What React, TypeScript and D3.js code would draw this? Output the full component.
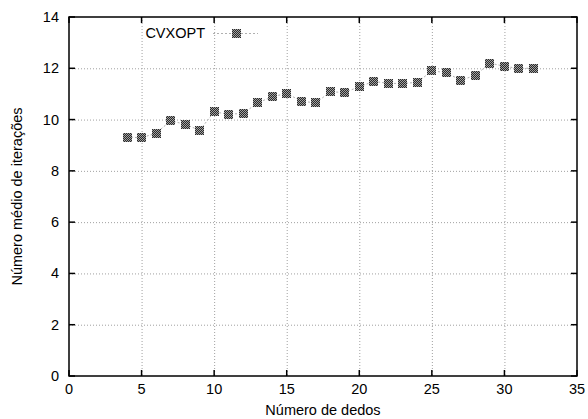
import { useEffect, useRef } from "react";
import * as d3 from "d3";

const dedos = [4, 5, 6, 7, 8, 9, 10, 11, 12, 13, 14, 15, 16, 17, 18, 19, 20, 21, 22, 23, 24, 25, 26, 27, 28, 29, 30, 31, 32];
const iteracoes = [9.32, 9.29, 9.47, 9.95, 9.82, 9.58, 10.3, 10.21, 10.24, 10.65, 10.89, 11.02, 10.72, 10.65, 11.08, 11.06, 11.28, 11.49, 11.41, 11.41, 11.45, 11.9, 11.83, 11.53, 11.73, 12.2, 12.08, 11.99, 12.01];
const xTicks = [0, 5, 10, 15, 20, 25, 30, 35];
const yTicks = [0, 2, 4, 6, 8, 10, 12, 14];
const seriesName = "CVXOPT";

export default function App() {
  const svgRef = useRef(null);

  useEffect(() => {
    const svg = d3.select(svgRef.current);
    svg.selectAll("*").remove();

    const left = 69;
    const right = 577;
    const top = 17;
    const bottom = 376;
    const font = "'Liberation Sans', Arial, sans-serif";
    const fs = 14.5;

    const x = d3.scaleLinear().domain([0, 35]).range([left, right]);
    const y = d3.scaleLinear().domain([0, 14]).range([bottom, top]);

    // checker texture for the markers
    const defs = svg.append("defs");
    const pat = defs
      .append("pattern")
      .attr("id", "chk")
      .attr("width", 2)
      .attr("height", 2)
      .attr("patternUnits", "userSpaceOnUse");
    pat.append("rect").attr("width", 2).attr("height", 2).attr("fill", "#2a2a2a");
    pat.append("rect").attr("width", 1).attr("height", 1).attr("fill", "#a0a0a0");
    pat.append("rect").attr("x", 1).attr("y", 1).attr("width", 1).attr("height", 1).attr("fill", "#a0a0a0");

    // grid
    const grid = svg.append("g").attr("stroke", "#a0a0a0").attr("stroke-width", 1).attr("stroke-dasharray", "1,2");
    xTicks.slice(1, -1).forEach((t) => {
      grid.append("line").attr("x1", x(t) + 0.5).attr("x2", x(t) + 0.5).attr("y1", top).attr("y2", bottom);
    });
    yTicks.slice(1, -1).forEach((t) => {
      grid.append("line").attr("x1", left).attr("x2", right).attr("y1", y(t) + 0.5).attr("y2", y(t) + 0.5);
    });

    // border + ticks
    svg
      .append("rect")
      .attr("x", left)
      .attr("y", top)
      .attr("width", right - left)
      .attr("height", bottom - top)
      .attr("fill", "none")
      .attr("stroke", "#000")
      .attr("stroke-width", 1.5);

    const ticks = svg.append("g").attr("stroke", "#000").attr("stroke-width", 1.5);
    xTicks.forEach((t) => {
      ticks.append("line").attr("x1", x(t)).attr("x2", x(t)).attr("y1", bottom).attr("y2", bottom - 6);
      ticks.append("line").attr("x1", x(t)).attr("x2", x(t)).attr("y1", top).attr("y2", top + 6);
    });
    yTicks.forEach((t) => {
      ticks.append("line").attr("x1", left).attr("x2", left + 6).attr("y1", y(t)).attr("y2", y(t));
      ticks.append("line").attr("x1", right).attr("x2", right - 6).attr("y1", y(t)).attr("y2", y(t));
    });

    // tick labels
    svg
      .append("g")
      .selectAll("text")
      .data(xTicks)
      .join("text")
      .attr("x", (d) => x(d))
      .attr("y", bottom + 18)
      .attr("text-anchor", "middle")
      .attr("font-family", font)
      .attr("font-size", fs)
      .text((d) => d);

    svg
      .append("g")
      .selectAll("text")
      .data(yTicks)
      .join("text")
      .attr("x", left - 10)
      .attr("y", (d) => y(d) + 5)
      .attr("text-anchor", "end")
      .attr("font-family", font)
      .attr("font-size", fs)
      .text((d) => d);

    // axis titles
    svg
      .append("text")
      .attr("x", (left + right) / 2)
      .attr("y", 415)
      .attr("text-anchor", "middle")
      .attr("font-family", font)
      .attr("font-size", fs)
      .text("Número de dedos");

    svg
      .append("text")
      .attr("transform", `translate(22,${(top + bottom) / 2}) rotate(-90)`)
      .attr("text-anchor", "middle")
      .attr("font-family", font)
      .attr("font-size", fs)
      .text("Número médio de iterações");

    // connecting line
    const pts = dedos.map((d, i) => [d, iteracoes[i]] as [number, number]);
    const line = d3
      .line<[number, number]>()
      .x((d) => x(d[0]))
      .y((d) => y(d[1]));
    svg
      .append("path")
      .attr("d", line(pts))
      .attr("fill", "none")
      .attr("stroke", "#b0b0b0")
      .attr("stroke-width", 1)
      .attr("stroke-dasharray", "2,2");

    const ms = 9;
    svg
      .append("g")
      .selectAll("rect")
      .data(pts)
      .join("rect")
      .attr("x", (d) => Math.round(x(d[0]) - ms / 2))
      .attr("y", (d) => Math.round(y(d[1]) - ms / 2))
      .attr("width", ms)
      .attr("height", ms)
      .attr("fill", "url(#chk)");

    // legend
    const lg = svg.append("g");
    lg.append("text")
      .attr("x", 205)
      .attr("y", 38)
      .attr("text-anchor", "end")
      .attr("font-family", font)
      .attr("font-size", fs)
      .text(seriesName);
    lg.append("line")
      .attr("x1", 213)
      .attr("x2", 258)
      .attr("y1", 33.5)
      .attr("y2", 33.5)
      .attr("stroke", "#b0b0b0")
      .attr("stroke-dasharray", "2,2");
    lg.append("rect")
      .attr("x", 232)
      .attr("y", 29)
      .attr("width", ms)
      .attr("height", ms)
      .attr("fill", "url(#chk)");
  }, []);

  return (
    <svg
      ref={svgRef}
      width={588}
      height={419}
      style={{ position: "absolute", left: 0, top: 0, background: "#fff" }}
    />
  );
}
